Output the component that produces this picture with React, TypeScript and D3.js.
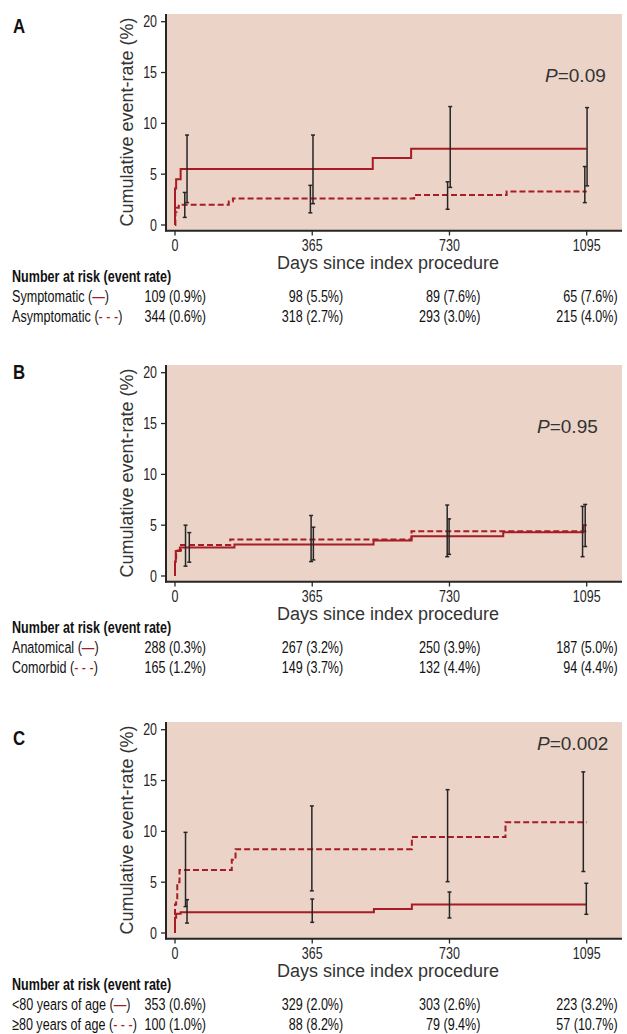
import React from 'react'
import * as d3 from 'd3'

const dayTicks = [0, 365, 730, 1095]
const rateTicks = [0, 5, 10, 15, 20]
const riskTitle = 'Number at risk (event rate)'
const xTitle = 'Days since index procedure'
const yTitle = 'Cumulative event-rate (%)'

// panel A
const symptomaticDays = [0, 0, 3, 15, 526, 628, 1095]
const symptomaticRates = [0, 3.6, 4.5, 5.5, 6.6, 7.5, 7.5]
const asymptomaticDays = [0, 1, 4, 10, 143, 154, 636, 882, 1095]
const asymptomaticRates = [0, 1.3, 1.7, 2.0, 2.3, 2.6, 2.95, 3.3, 3.3]
const symptomaticCiDays = [32, 367, 732, 1096]
const symptomaticCiLow = [2.2, 2.1, 3.7, 3.85]
const symptomaticCiHigh = [8.85, 8.85, 11.65, 11.55]
const asymptomaticCiDays = [26, 360, 725, 1090]
const asymptomaticCiLow = [0.75, 1.2, 1.55, 2.2]
const asymptomaticCiHigh = [3.2, 3.9, 4.25, 5.75]
const symptomaticRisk = ['109 (0.9%)', '98 (5.5%)', '89 (7.6%)', '65 (7.6%)']
const asymptomaticRisk = ['344 (0.6%)', '318 (2.7%)', '293 (3.0%)', '215 (4.0%)']

// panel B
const anatomicalDays = [0, 0, 2, 13, 158, 528, 629, 873, 1086, 1095]
const anatomicalRates = [0, 1.4, 2.45, 2.8, 3.1, 3.5, 3.9, 4.3, 5.0, 5.0]
const comorbidDays = [0, 0, 3, 16, 147, 629, 1095]
const comorbidRates = [0, 1.4, 2.5, 3.05, 3.6, 4.4, 4.4]
const anatomicalCiDays = [38, 368, 729, 1091]
const anatomicalCiLow = [1.36, 1.58, 2.13, 2.9]
const anatomicalCiHigh = [4.27, 4.8, 5.62, 7.04]
const comorbidCiDays = [28, 362, 724, 1084]
const comorbidCiLow = [0.97, 1.42, 1.9, 1.9]
const comorbidCiHigh = [5.0, 5.95, 6.98, 6.85]
const anatomicalRisk = ['288 (0.3%)', '267 (3.2%)', '250 (3.9%)', '187 (5.0%)']
const comorbidRisk = ['165 (1.2%)', '149 (3.7%)', '132 (4.4%)', '94 (4.4%)']

// panel C
const under80Days = [0, 0, 3, 15, 529, 630, 1095]
const under80Rates = [0, 1.5, 1.9, 2.05, 2.35, 2.8, 2.8]
const over80Days = [0, 0, 3, 6, 12, 151, 161, 630, 879, 1095]
const over80Rates = [0, 2.8, 3.2, 5.0, 6.2, 7.2, 8.25, 9.45, 10.9, 10.9]
const under80CiDays = [32, 365, 730, 1094]
const under80CiLow = [0.98, 1.05, 1.48, 1.84]
const under80CiHigh = [3.28, 3.34, 4.03, 4.89]
const over80CiDays = [28, 364, 725, 1086]
const over80CiLow = [2.6, 4.15, 5.05, 6.05]
const over80CiHigh = [9.9, 12.5, 14.1, 15.85]
const under80Risk = ['353 (0.6%)', '329 (2.0%)', '303 (2.6%)', '223 (3.2%)']
const over80Risk = ['100 (1.0%)', '88 (8.2%)', '79 (9.4%)', '57 (10.7%)']

const RED = '#a61d25'
const INK = '#262626'
const BG = '#ebd3c7'
const sans = "'Liberation Sans', Arial, sans-serif"

const zip = (xs, ys) => xs.map((d, i) => [d, ys[i]])
const bars = (days, lo, hi) => days.map((d, i) => ({day: d, lo: lo[i], hi: hi[i]}))

const panels = [
  {
    letter: 'A', top: 0, labelY: 33, p: '0.09', pX: 545, pY: 82,
    solid: zip(symptomaticDays, symptomaticRates),
    dashed: zip(asymptomaticDays, asymptomaticRates),
    solidCi: bars(symptomaticCiDays, symptomaticCiLow, symptomaticCiHigh),
    dashedCi: bars(asymptomaticCiDays, asymptomaticCiLow, asymptomaticCiHigh),
    solidName: 'Symptomatic', dashedName: 'Asymptomatic',
    solidRisk: symptomaticRisk, dashedRisk: asymptomaticRisk,
  },
  {
    letter: 'B', top: 351, labelY: 28, p: '0.95', pX: 537, pY: 82,
    solid: zip(anatomicalDays, anatomicalRates),
    dashed: zip(comorbidDays, comorbidRates),
    solidCi: bars(anatomicalCiDays, anatomicalCiLow, anatomicalCiHigh),
    dashedCi: bars(comorbidCiDays, comorbidCiLow, comorbidCiHigh),
    solidName: 'Anatomical', dashedName: 'Comorbid',
    solidRisk: anatomicalRisk, dashedRisk: comorbidRisk,
  },
  {
    letter: 'C', top: 708, labelY: 37, p: '0.002', pX: 537, pY: 42,
    solid: zip(under80Days, under80Rates),
    dashed: zip(over80Days, over80Rates),
    solidCi: bars(under80CiDays, under80CiLow, under80CiHigh),
    dashedCi: bars(over80CiDays, over80CiLow, over80CiHigh),
    solidName: '<80 years of age', dashedName: '\u226580 years of age',
    solidRisk: under80Risk, dashedRisk: over80Risk,
  },
]

const x = d3.scaleLinear().domain([0, 1095]).range([175, 586.7])
const y = d3.scaleLinear().domain([0, 20]).range([225, 21.7])
const stepLine = d3.line().x(d => x(d[0])).y(d => y(d[1])).curve(d3.curveStepAfter)

// no condensed face installed, so squeeze Liberation Sans horizontally
const NText = ({x, y, anchor = 'start', size = 17, squeeze = 0.74, bold = false, fill = '#111', children}) => (
  <text
    transform={`translate(${x},${y}) scale(${squeeze},1)`}
    textAnchor={anchor}
    fontFamily={sans}
    fontWeight={bold ? 'bold' : 'normal'}
    fontSize={size}
    fill={fill}
  >
    {children}
  </text>
)

const ErrorBars = ({data}) => (
  <g stroke={INK} strokeWidth={1.5}>
    {data.map((b, i) => (
      <g key={i}>
        <line x1={x(b.day)} x2={x(b.day)} y1={y(b.lo)} y2={y(b.hi)} />
        <line x1={x(b.day) - 2} x2={x(b.day) + 2} y1={y(b.lo)} y2={y(b.lo)} />
        <line x1={x(b.day) - 2} x2={x(b.day) + 2} y1={y(b.hi)} y2={y(b.hi)} />
      </g>
    ))}
  </g>
)

const Panel = ({cfg}) => {
  const colRight = dayTicks.map(d => x(d) + 31)
  return (
    <g transform={`translate(0,${cfg.top})`}>
      <NText x={13} y={cfg.labelY} size={21} squeeze={0.8} bold>{cfg.letter}</NText>
      <rect x={166} y={14} width={456} height={216.7} fill={BG} />
      <path d={stepLine(cfg.dashed)} fill="none" stroke={RED} strokeWidth={2} strokeDasharray="6,3" />
      <path d={stepLine(cfg.solid)} fill="none" stroke={RED} strokeWidth={2} />
      <ErrorBars data={cfg.dashedCi} />
      <ErrorBars data={cfg.solidCi} />
      <line x1={166} x2={166} y1={14} y2={231.5} stroke={INK} strokeWidth={2} />
      <line x1={165} x2={622} y1={230.7} y2={230.7} stroke={INK} strokeWidth={2} />
      {rateTicks.map(t => (
        <g key={t}>
          <line x1={161} x2={166} y1={y(t)} y2={y(t)} stroke={INK} strokeWidth={1.3} />
          <NText x={157} y={y(t) + 5.6} anchor="end" size={16} squeeze={0.78} fill={INK}>{t}</NText>
        </g>
      ))}
      {dayTicks.map(t => (
        <g key={t}>
          <line x1={x(t)} x2={x(t)} y1={230.7} y2={235.5} stroke={INK} strokeWidth={1.3} />
          <NText x={x(t)} y={251} anchor="middle" size={16} squeeze={0.78} fill={INK}>{t}</NText>
        </g>
      ))}
      <text transform="translate(133,122) rotate(-90)" textAnchor="middle" fontFamily={sans} fontSize={18} fill="#333">{yTitle}</text>
      <text x={388} y={269} textAnchor="middle" fontFamily={sans} fontSize={18} fill="#333">{xTitle}</text>
      <text x={cfg.pX} y={cfg.pY} fontFamily={sans} fontSize={19} fill="#333">
        <tspan fontStyle="italic">P</tspan>{`=${cfg.p}`}
      </text>
      <NText x={12} y={282} bold>{riskTitle}</NText>
      <NText x={12} y={302}>
        {`${cfg.solidName} (`}<tspan fill={RED}>{'\u2014'}</tspan>{')'}
      </NText>
      <NText x={12} y={322}>
        {`${cfg.dashedName} (`}<tspan fill={RED}>{'- - -'}</tspan>{')'}
      </NText>
      {cfg.solidRisk.map((r, i) => (
        <NText key={'s' + i} x={colRight[i]} y={302} anchor="end">{r}</NText>
      ))}
      {cfg.dashedRisk.map((r, i) => (
        <NText key={'d' + i} x={colRight[i]} y={322} anchor="end">{r}</NText>
      ))}
    </g>
  )
}

export default function App() {
  return (
    <svg width={627} height={1034} style={{position: 'absolute', left: 0, top: 0, background: '#fff'}}>
      {panels.map(p => <Panel key={p.letter} cfg={p} />)}
    </svg>
  )
}
